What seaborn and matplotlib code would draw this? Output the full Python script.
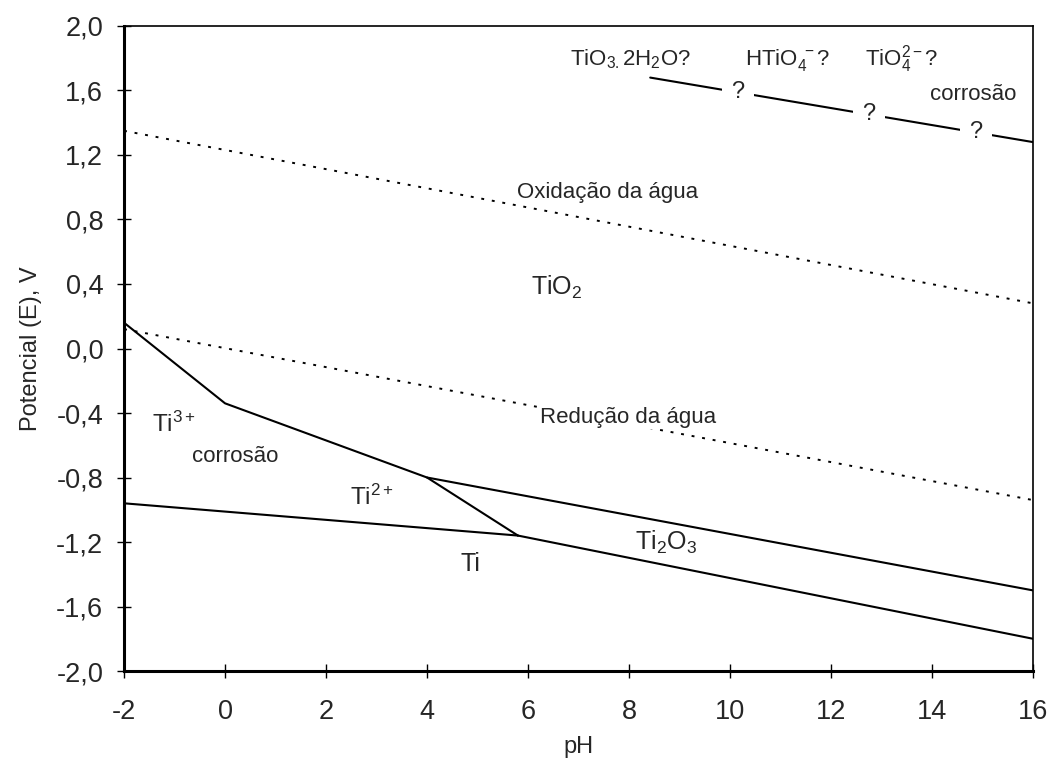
import matplotlib
matplotlib.use("Agg")
import matplotlib.pyplot as plt
from matplotlib.ticker import FuncFormatter, MultipleLocator
import seaborn as sns

# Pourbaix diagram for titanium (E vs pH)
ph_limits = [-2, 16]
e_limits = [-2.0, 2.0]

# water stability lines
oxid_ph = [-2, 16]
oxid_e = [1.35, 0.28]
red_ph = [-2, 16]
red_e = [0.12, -0.94]

# phase boundaries (solid)
ti3_ti2_ph = [-2, 0, 4, 5.8]
ti3_ti2_e = [0.16, -0.34, -0.80, -1.16]
tio2_ti2o3_ph = [4, 16]
tio2_ti2o3_e = [-0.80, -1.50]
ti_ti2_ph = [-2, 5.8]
ti_ti2_e = [-0.96, -1.16]
ti_ti2o3_ph = [5.8, 16]
ti_ti2o3_e = [-1.16, -1.80]
upper_ph = [8.42, 16]
upper_e = [1.68, 1.28]

# question marks along the upper boundary
q_ph = [10.16, 12.75, 14.87]

sns.set_style("white")
plt.rcParams["font.family"] = ["Liberation Sans", "DejaVu Sans"]
plt.rcParams["mathtext.fontset"] = "custom"
plt.rcParams["mathtext.rm"] = "Liberation Sans"
plt.rcParams["mathtext.it"] = "Liberation Sans:italic"
plt.rcParams["axes.unicode_minus"] = False

fig = plt.figure(figsize=(10.53, 7.62), dpi=100)
ax = fig.add_axes([0.1178, 0.1194, 0.9810 - 0.1178, 0.9659 - 0.1194])

dot = (0, (1.5, 4))
sns.lineplot(x=oxid_ph, y=oxid_e, ax=ax, color="black", lw=1.4, linestyle=dot, sort=False)
sns.lineplot(x=red_ph, y=red_e, ax=ax, color="black", lw=1.4, linestyle=dot, sort=False)

for xs, ys in [(ti3_ti2_ph, ti3_ti2_e), (tio2_ti2o3_ph, tio2_ti2o3_e),
               (ti_ti2_ph, ti_ti2_e), (ti_ti2o3_ph, ti_ti2o3_e),
               (upper_ph, upper_e)]:
    sns.lineplot(x=xs, y=ys, ax=ax, color="black", lw=1.5, sort=False)

# '?' markers breaking the upper boundary
slope = (upper_e[1] - upper_e[0]) / (upper_ph[1] - upper_ph[0])
for q in q_ph:
    e = upper_e[0] + slope * (q - upper_ph[0])
    ax.text(q, e, "?", ha="center", va="center", fontsize=17, zorder=5,
            bbox=dict(facecolor="white", edgecolor="none", pad=7))


def label(x, y, s, size=16, ha="left", box=False):
    kw = {}
    if box:
        kw["bbox"] = dict(facecolor="white", edgecolor="none", pad=1)
    ax.text(x, y, s, ha=ha, va="baseline", fontsize=size, zorder=5, **kw)


label(6.83, 1.758, r"TiO$\mathregular{_{3.}}$2H$\mathregular{_2}$O?")
label(10.30, 1.758, r"HTiO$\mathregular{_4^{\ -}}$?")
label(12.67, 1.758, r"TiO$\mathregular{_4^{2-}}$?")
label(13.96, 1.541, "corrosão")
label(7.58, 0.933, "Oxidação da água", ha="center")
label(6.57, 0.33, r"TiO$\mathregular{_2}$", 18, ha="center")
label(7.98, -0.462, "Redução da água", ha="center", box=True)
label(-1.446, -0.518, r"Ti$\mathregular{^{3+}}$", 17.5)
label(-0.653, -0.704, "corrosão")
label(2.475, -0.971, r"Ti$\mathregular{^{2+}}$", 17.5)
label(8.12, -1.25, r"Ti$\mathregular{_2}$O$\mathregular{_3}$", 18)
label(4.86, -1.38, "Ti", 18, ha="center")

ax.set_xlim(ph_limits)
ax.set_ylim(e_limits)
ax.xaxis.set_major_locator(MultipleLocator(2))
ax.yaxis.set_major_locator(MultipleLocator(0.4))
ax.xaxis.set_major_formatter(FuncFormatter(lambda v, p: f"{v:.0f}"))
ax.yaxis.set_major_formatter(
    FuncFormatter(lambda v, p: f"{v:.1f}".replace(".", ",").replace("-0,0", "0,0")))
ax.tick_params(axis="both", which="major", direction="inout", length=10, width=1,
               labelsize=19.5, color="black",
               bottom=True, left=True, top=False, right=False)
ax.tick_params(axis="x", pad=15)
ax.tick_params(axis="y", pad=10)

for side in ["left", "bottom"]:
    ax.spines[side].set_linewidth(2.2)
    ax.spines[side].set_color("black")
for side in ["top", "right"]:
    ax.spines[side].set_linewidth(1.2)
    ax.spines[side].set_color("black")

ax.set_xlabel("pH", fontsize=17, labelpad=8)
ax.set_ylabel("Potencial (E), V", fontsize=17, labelpad=10)

fig.savefig("out.png", dpi=100)
